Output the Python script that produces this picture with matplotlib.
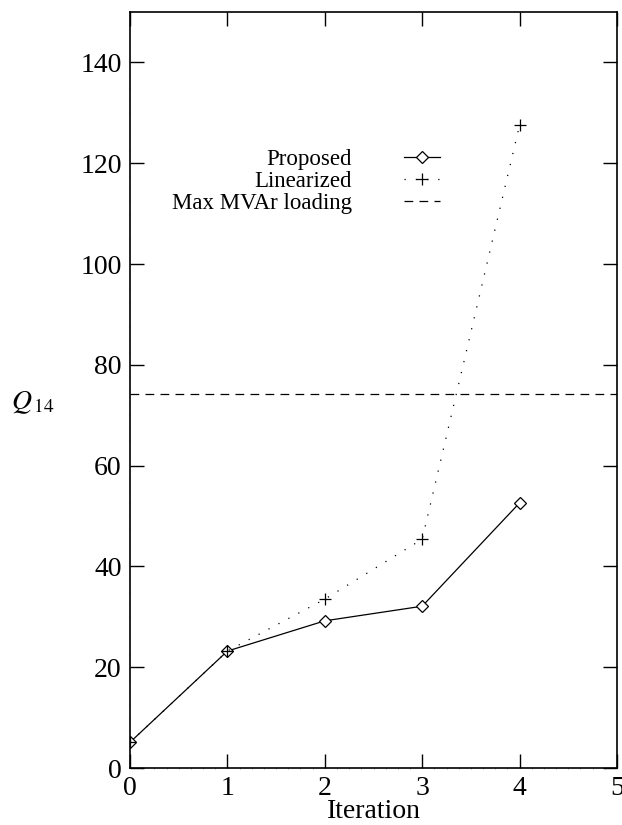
import numpy as np
import matplotlib.pyplot as plt
from matplotlib.ticker import MultipleLocator

plt.rcParams['font.family'] = ['Liberation Serif', 'DejaVu Serif']
plt.rcParams['mathtext.fontset'] = 'stix'

iterations = [0, 1, 2, 3, 4]
proposed = [5.1, 23.2, 29.2, 32.1, 52.6]
linearized = [5.1, 23.2, 33.5, 45.4, 127.6]
max_mvar = 74.2

fig = plt.figure(figsize=(6.22, 8.25), dpi=100)
ax = fig.add_axes([130 / 622, 1 - 768 / 825, 487 / 622, 756 / 825])

ax.plot(iterations, proposed, color='black', lw=0.9, marker='D', ms=6,
        mfc='white', mec='black', mew=0.9, label='Proposed')
ax.plot(iterations, linearized, color='black', lw=0.9, ls=(0, (1, 8)),
        marker='+', ms=9, mew=0.9, label='Linearized')
ax.axhline(max_mvar, color='black', lw=0.9, ls=(0, (7, 5)),
           label='Max MVAr loading')

ax.set_xlim(0, 5)
ax.set_ylim(0, 150)
ax.xaxis.set_major_locator(MultipleLocator(1))
ax.yaxis.set_major_locator(MultipleLocator(20))
ax.xaxis.set_minor_locator(MultipleLocator(0.125))
ax.yaxis.set_minor_locator(MultipleLocator(2.5))
ax.tick_params(which='major', direction='in', length=10, width=1,
               top=True, right=True, labelsize=20, pad=6)
ax.tick_params(which='minor', direction='out', length=1, width=0.5,
               color='0.5', top=False, right=False)
for s in ax.spines.values():
    s.set_linewidth(1.2)

ax.set_xlabel('Iteration', fontsize=20, labelpad=-2)
ax.set_ylabel(r'$Q_{\,14}$', fontsize=20, rotation=0)
ax.yaxis.set_label_coords(-0.2, 0.465)

ax.legend(loc='upper right', bbox_to_anchor=(0.66, 0.834), frameon=False,
          markerfirst=False, fontsize=16.5, handlelength=1.55,
          handletextpad=2.3, labelspacing=0.05, borderpad=0)

fig.savefig('out.png', dpi=100)
